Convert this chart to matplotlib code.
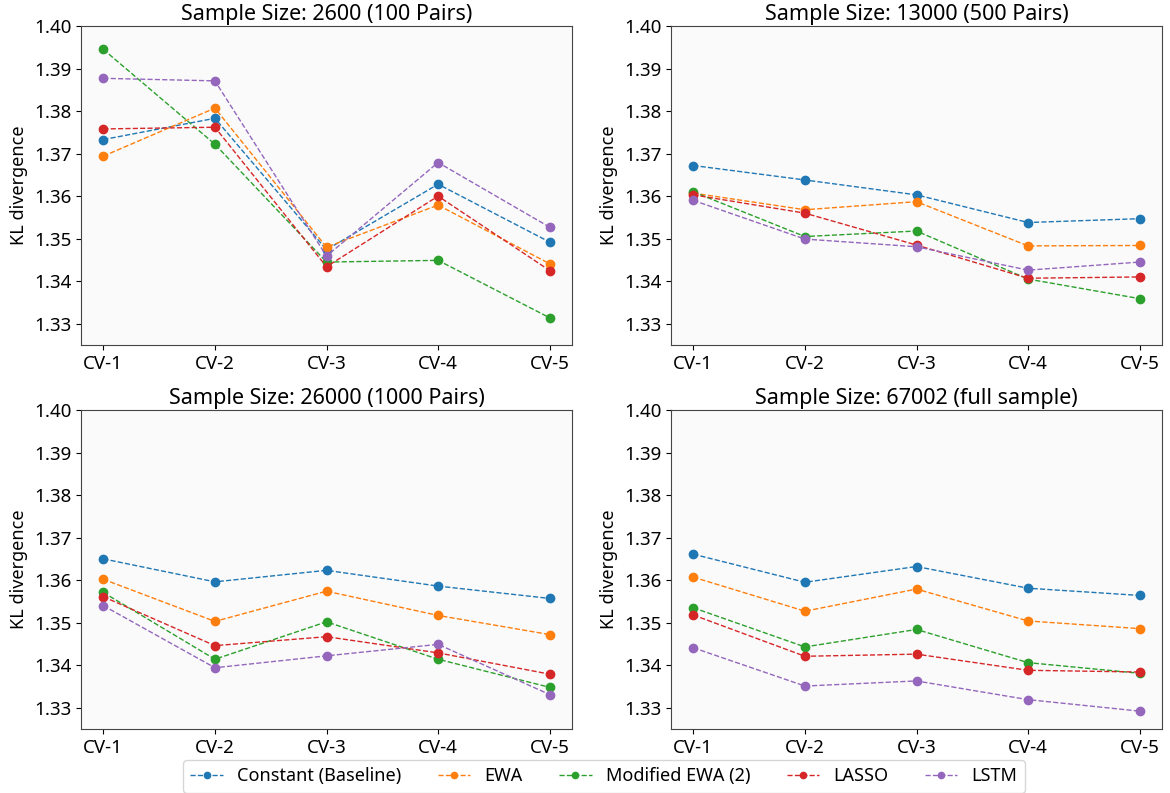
import matplotlib
matplotlib.use("Agg")
import matplotlib.pyplot as plt

plt.rcParams['font.family'] = ['Noto Sans', 'DejaVu Sans']

folds = ["CV-1", "CV-2", "CV-3", "CV-4", "CV-5"]
models = ["Constant (Baseline)", "EWA", "Modified EWA (2)", "LASSO", "LSTM"]
titles = ["Sample Size: 2600 (100 Pairs)", "Sample Size: 13000 (500 Pairs)",
          "Sample Size: 26000 (1000 Pairs)", "Sample Size: 67002 (full sample)"]

p1_constant = [1.3733, 1.3783, 1.3474, 1.3628, 1.3492]
p1_ewa = [1.3694, 1.3807, 1.3480, 1.3579, 1.3441]
p1_modewa = [1.3945, 1.3722, 1.3445, 1.3449, 1.3314]
p1_lasso = [1.3758, 1.3762, 1.3434, 1.3600, 1.3425]
p1_lstm = [1.3877, 1.3871, 1.3459, 1.3679, 1.3527]

p2_constant = [1.3672, 1.3638, 1.3603, 1.3538, 1.3547]
p2_ewa = [1.3607, 1.3568, 1.3587, 1.3483, 1.3484]
p2_modewa = [1.3610, 1.3505, 1.3518, 1.3405, 1.3359]
p2_lasso = [1.3603, 1.3560, 1.3485, 1.3407, 1.3410]
p2_lstm = [1.3590, 1.3499, 1.3481, 1.3426, 1.3445]

p3_constant = [1.3650, 1.3596, 1.3623, 1.3586, 1.3557]
p3_ewa = [1.3602, 1.3503, 1.3574, 1.3517, 1.3472]
p3_modewa = [1.3571, 1.3414, 1.3502, 1.3414, 1.3348]
p3_lasso = [1.3561, 1.3446, 1.3467, 1.3429, 1.3379]
p3_lstm = [1.3540, 1.3394, 1.3422, 1.3449, 1.3331]

p4_constant = [1.3661, 1.3595, 1.3632, 1.3581, 1.3564]
p4_ewa = [1.3607, 1.3527, 1.3579, 1.3504, 1.3486]
p4_modewa = [1.3535, 1.3443, 1.3484, 1.3406, 1.3381]
p4_lasso = [1.3518, 1.3421, 1.3426, 1.3388, 1.3384]
p4_lstm = [1.3441, 1.3351, 1.3363, 1.3319, 1.3292]

panels = [
    [p1_constant, p1_ewa, p1_modewa, p1_lasso, p1_lstm],
    [p2_constant, p2_ewa, p2_modewa, p2_lasso, p2_lstm],
    [p3_constant, p3_ewa, p3_modewa, p3_lasso, p3_lstm],
    [p4_constant, p4_ewa, p4_modewa, p4_lasso, p4_lstm],
]
colors = ["#1f77b4", "#ff7f0e", "#2ca02c", "#d62728", "#9467bd"]

fig = plt.figure(figsize=(11.7, 7.93), dpi=100)
w = 491 / 1170
h = 319 / 793
positions = [
    (81 / 1170, 1 - 345 / 793),
    (671 / 1170, 1 - 345 / 793),
    (81 / 1170, 1 - 729 / 793),
    (671 / 1170, 1 - 729 / 793),
]
handles = []
for i, (pos, series) in enumerate(zip(positions, panels)):
    ax = fig.add_axes([pos[0], pos[1], w, h])
    ax.set_facecolor("#fafafa")
    for j, (name, vals) in enumerate(zip(models, series)):
        ln, = ax.plot(folds, vals, linestyle="--", marker="o", color=colors[j],
                      linewidth=1.0, markersize=6, label=name)
        if i == 0:
            handles.append(ln)
    ax.set_ylim(1.325, 1.40)
    ax.set_yticks([1.33, 1.34, 1.35, 1.36, 1.37, 1.38, 1.39, 1.40])
    ax.set_yticklabels(["1.33", "1.34", "1.35", "1.36", "1.37", "1.38", "1.39", "1.40"])
    ax.set_title(titles[i], fontsize=15.5, pad=4)
    ax.set_ylabel("KL divergence", fontsize=13)
    ax.tick_params(labelsize=13.5)
    for s in ax.spines.values():
        s.set_color("#444444")

fig.legend(handles=handles, labels=models, loc="lower center", ncol=5,
           bbox_to_anchor=(604 / 1170, -0.004), fontsize=13, frameon=True,
           handlelength=1.8, columnspacing=2.0, markerscale=0.75,
           borderaxespad=0.2)

fig.savefig("out.png", dpi=100)
